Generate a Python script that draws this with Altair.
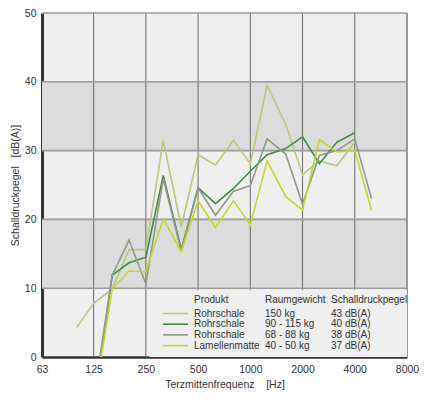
import altair as alt
import pandas as pd

# ---- data ----
freqs = [100, 125, 160, 200, 250, 315, 400, 500, 630, 800, 1000, 1250, 1600, 2000, 2500, 3150, 4000, 5000]
s_150 = [4.3, 7.8, 9.9, 15.6, 15.6, 31.5, 18.9, 29.4, 27.9, 31.5, 28.1, 39.5, 33.8, 26.5, 28.5, 27.8, 31.2, None]
s_90 = [None, -7.3, 11.9, 13.7, 14.5, 26.4, 15.6, 24.6, 22.3, 24.5, 27.0, 29.4, 30.3, 32.0, 28.1, 31.2, 32.6, None]
s_68 = [None, -6.1, 11.9, 17.0, 10.6, 25.9, 15.4, 24.6, 20.6, 24.1, 24.9, 31.7, 29.5, 22.2, 29.3, 30.0, 31.7, 23.0]
s_40 = [None, -6.9, 9.9, 12.5, 12.4, 20.1, 15.3, 22.7, 18.8, 22.7, 19.2, 28.5, 23.3, 21.4, 31.6, 29.8, 30.0, 21.3]

products = ["Rohrschale", "Rohrschale", "Rohrschale", "Lamellenmatte"]
weights = ["150 kg", "90 - 115 kg", "68 - 88 kg", "40 - 50 kg"]
levels = ["43 dB(A)", "40 dB(A)", "38 dB(A)", "37 dB(A)"]
series_keys = ["150 kg", "90 - 115 kg", "68 - 88 kg", "40 - 50 kg"]
series_vals = [s_150, s_90, s_68, s_40]
colors = ["#b8c97c", "#3f8c40", "#8e9a8a", "#c3d52e"]

x_ticks = [63, 125, 250, 500, 1000, 2000, 4000, 8000]
y_ticks = [0, 10, 20, 30, 40, 50]
band_lo = [10, 30]
band_hi = [20, 40]
vgrid = [125, 250, 500, 1000, 2000, 4000]
hgrid = [10, 20, 30, 40, 50]

rows = []
for key, vals in zip(series_keys, series_vals):
    for f, v in zip(freqs, vals):
        if v is not None:
            rows.append({"serie": key, "f": f, "v": v})
df = pd.DataFrame(rows)

FONT = "Liberation Sans"
TXT = "#333333"

x_scale = alt.Scale(type="log", base=2, domain=[63, 8000], nice=False)
x_axis = alt.Axis(values=x_ticks, format="d", title="Terzmittenfrequenz\u00a0\u00a0\u00a0\u00a0[Hz]",
                  grid=False, ticks=False, domainColor="#333333", domainWidth=2.5,
                  labelPadding=7, titlePadding=5, labelFontSize=10.5, titleFontSize=10.5,
                  labelFont=FONT, titleFont=FONT, labelColor=TXT, titleColor=TXT,
                  titleFontWeight="normal", labelFlush=False)
y_scale = alt.Scale(domain=[0, 50], nice=False)
y_axis = alt.Axis(values=y_ticks, title="Schalldruckpegel\u00a0\u00a0\u00a0[dB(A)]", grid=False, ticks=False,
                  domainColor="#333333", domainWidth=3, labelPadding=6, titlePadding=4,
                  labelFontSize=10.5, titleFontSize=10.5, labelFont=FONT, titleFont=FONT,
                  labelColor=TXT, titleColor=TXT, titleFontWeight="normal")


def X(field="f"):
    return alt.X(f"{field}:Q", scale=x_scale, axis=x_axis)


def Y(field="v"):
    return alt.Y(f"{field}:Q", scale=y_scale, axis=y_axis)


bands = alt.Chart(pd.DataFrame({"v": band_lo, "v2": band_hi})).mark_rect(color="#dcdcdc").encode(
    y=Y("v"), y2="v2:Q"
)

vlines = alt.Chart(pd.DataFrame({"f": vgrid})).mark_rule(color="#6b6b6b", strokeWidth=1).encode(x=X())
right_edge = alt.Chart(pd.DataFrame({"f": [8000]})).mark_rule(color="#9a9a9a", strokeWidth=2).encode(x=X())
hlines = alt.Chart(pd.DataFrame({"v": hgrid})).mark_rule(color="#9a9a9a", strokeWidth=1.6).encode(y=Y())

legend_box = alt.Chart(pd.DataFrame({"f": [262], "f2": [8000], "v": [0], "v2": [9.75]})).mark_rect(
    color="#efefef"
).encode(x=X(), x2="f2:Q", y=Y(), y2="v2:Q")

lines = alt.Chart(df).mark_line(clip=True, strokeWidth=1.6).encode(
    x=X(),
    y=Y(),
    color=alt.Color("serie:N", scale=alt.Scale(domain=series_keys, range=colors), legend=None),
    detail="serie:N",
)

layers = [bands, vlines, right_edge, hlines, legend_box, lines]

# custom legend (annotation)
hdr_y = 287
row_y0 = 300.5
row_dy = 10.7
col_line = 121
col_prod = 152
col_w = 223
col_l = 289
for txt, cx in [("Produkt", col_prod), ("Raumgewicht", col_w), ("Schalldruckpegel", col_l)]:
    layers.append(
        alt.Chart(pd.DataFrame({"t": [txt]})).mark_text(
            align="left", baseline="middle", fontSize=10, font=FONT, color=TXT
        ).encode(x=alt.value(cx), y=alt.value(hdr_y), text="t:N")
    )
for i in range(4):
    yy = row_y0 + i * row_dy
    layers.append(
        alt.Chart(pd.DataFrame({"s": [series_keys[i]]})).mark_rule(strokeWidth=1.6, color=colors[i]).encode(
            x=alt.value(col_line), x2=alt.value(col_line + 25), y=alt.value(yy)
        )
    )
    for txt, cx in [(products[i], col_prod), (weights[i], col_w), (levels[i], col_l)]:
        layers.append(
            alt.Chart(pd.DataFrame({"t": [txt]})).mark_text(
                align="left", baseline="middle", fontSize=10, font=FONT, color=TXT
            ).encode(x=alt.value(cx), y=alt.value(yy), text="t:N")
        )

chart = alt.layer(*layers).properties(
    width=365,
    height=344,
    autosize=alt.AutoSizeParams(type="none"),
    padding={"left": 34, "top": 5, "right": 12, "bottom": 35},
).configure(background="white").configure_view(fill="#efefef", stroke=None)

chart.save("out.html", embed_options={"renderer": "svg", "actions": False})
